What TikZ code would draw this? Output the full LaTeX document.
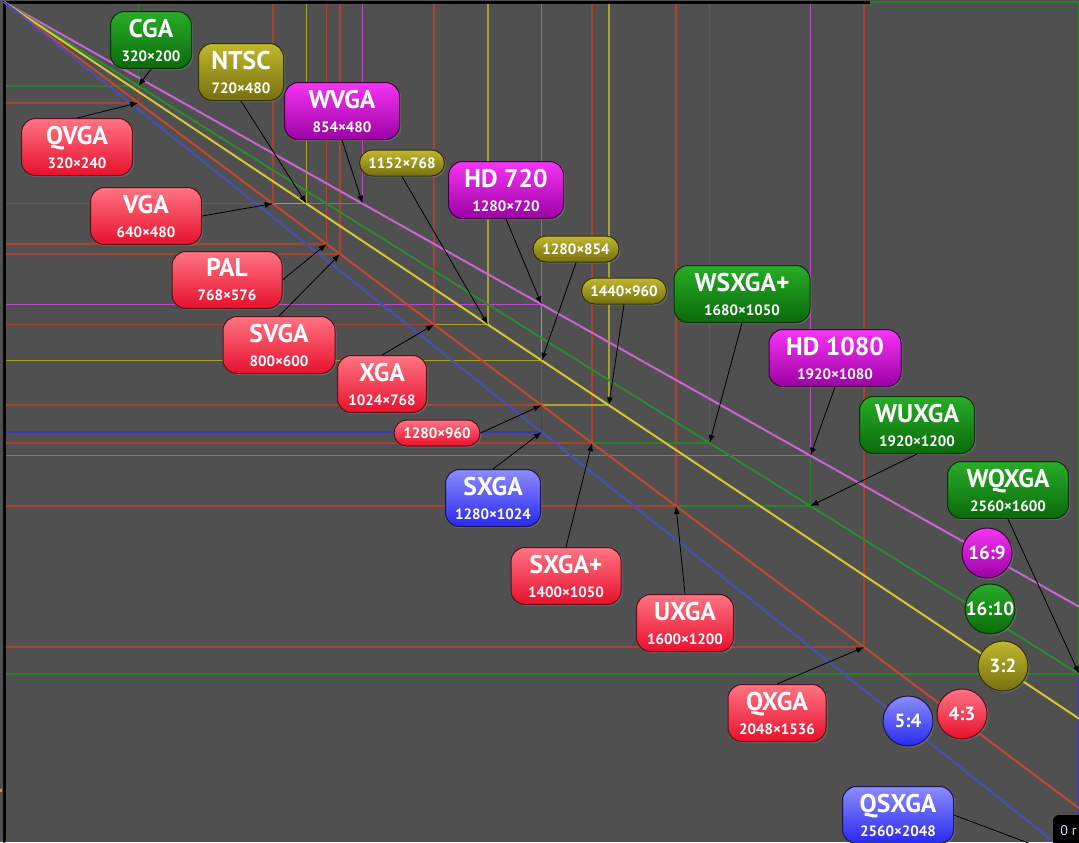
\documentclass[tikz,border=0pt]{standalone}
\usepackage{fontspec}
\setmainfont{PT Sans}
\usetikzlibrary{arrows.meta,shadows}

\definecolor{bgray}{HTML}{505050}
% label fills
\definecolor{redtop}{HTML}{FF7484}
\definecolor{redbot}{HTML}{E8102C}
\definecolor{redrim}{HTML}{5A1018}
\definecolor{grntop}{HTML}{28AC28}
\definecolor{grnbot}{HTML}{0A6A0A}
\definecolor{grnrim}{HTML}{083208}
\definecolor{olvtop}{HTML}{C0B82E}
\definecolor{olvbot}{HTML}{767010}
\definecolor{olvrim}{HTML}{363208}
\definecolor{magtop}{HTML}{F535F5}
\definecolor{magbot}{HTML}{9C00A4}
\definecolor{magrim}{HTML}{400040}
\definecolor{blutop}{HTML}{8C8CFF}
\definecolor{blubot}{HTML}{2828EE}
\definecolor{blurim}{HTML}{161650}
% outline colours
\definecolor{lred}{HTML}{A8442C}
\definecolor{lgrn}{HTML}{2C802C}
\definecolor{lolv}{HTML}{A8A028}
\definecolor{lmag}{HTML}{B84CC8}
\definecolor{lblu}{HTML}{3A3AB0}
% ratio lines
\definecolor{dmag}{HTML}{C864D2}
\definecolor{dgrn}{HTML}{2E8A2E}
\definecolor{dolv}{HTML}{D4C836}
\definecolor{dred}{HTML}{C44830}
\definecolor{dblu}{HTML}{4650B4}

\newcommand{\ttl}[1]{{\fontsize{12.8}{13}\selectfont #1}}

\begin{document}
\begin{tikzpicture}[x=0.5pt,y=-0.5pt,
	box/.style={rectangle, rounded corners=7pt, minimum height=28.5pt, inner sep=1pt,
		text=white, align=center, font=\fontsize{7.5}{12}\selectfont\bfseries, line width=0.5pt,
		drop shadow={shadow xshift=0.8pt, shadow yshift=-0.8pt, opacity=0.45}},
	pill/.style={box, rounded corners=6.5pt, minimum height=13pt},
	ratio/.style={box, circle, minimum size=25pt, inner sep=0pt, font=\fontsize{9.5}{10}\selectfont\bfseries},
	redlbl/.style={top color=redtop, bottom color=redbot, draw=redrim},
	grnlbl/.style={top color=grntop, bottom color=grnbot, draw=grnrim},
	olvlbl/.style={top color=olvtop, bottom color=olvbot, draw=olvrim},
	maglbl/.style={top color=magtop, bottom color=magbot, draw=magrim},
	blulbl/.style={top color=blutop, bottom color=blubot, draw=blurim},
	frame/.style={line width=0.75pt},
	ratioline/.style={line width=1pt},
	pointer/.style={-{Latex[length=4pt,width=3pt]}, line width=0.4pt, black}]

	\useasboundingbox (0,0) rectangle (1079,842);
	\clip (0,0) rectangle (1079,842);
	\fill[bgray] (0,0) rectangle (1079,842);

	% screen outlines from the top left corner
	\coordinate (o) at (4,2);
	\foreach \w/\h/\c in {2560/2048/lblu, 2560/1600/lgrn, 2048/1536/lred, 1920/1200/lgrn,
		1600/1200/lred, 1920/1080/lmag, 1680/1050/lgrn, 1400/1050/lred, 1440/960/lolv,
		1280/1024/lblu, 1280/960/lred, 1280/854/lolv, 1280/720/lmag, 1152/768/lolv,
		1024/768/lred, 800/600/lred, 768/576/lred, 854/480/lmag, 720/480/lolv,
		640/480/lred, 320/240/lred, 320/200/lgrn}{
		\draw[frame,\c] (o) rectangle ({4+0.42*\w},{2+0.42*\h});
		\coordinate (r\w-\h) at ({4+0.42*\w},{2+0.42*\h});
	}
	\draw[black, line width=1.5pt] (4,842) -- (o) -- (870,2);

	% aspect ratio diagonals
	\foreach \dx/\dy/\c in {1600/900/dmag, 1600/1000/dgrn, 1500/1000/dolv, 1200/900/dred, 1250/1000/dblu}{
		\draw[ratioline,\c] (o) -- ++(\dx,\dy);
	}

	% labels
	\node[box, grnlbl, minimum width=40.5pt] (cga) at (151,40) {\ttl{CGA}\\320×200};
	\node[box, olvlbl, minimum width=42.5pt] (ntsc) at (241,72) {\ttl{NTSC}\\720×480};
	\node[box, maglbl, minimum width=57.5pt] (wvga) at (342,111) {\ttl{WVGA}\\854×480};
	\node[box, redlbl, minimum width=55.5pt] (qvga) at (77,147) {\ttl{QVGA}\\320×240};
	\node[box, maglbl, minimum width=57.5pt] (hd720) at (506,190) {\ttl{HD 720}\\1280×720};
	\node[box, redlbl, minimum width=55.5pt] (vga) at (146,216) {\ttl{VGA}\\640×480};
	\node[box, redlbl, minimum width=55pt] (pal) at (227,280) {\ttl{PAL}\\768×576};
	\node[box, grnlbl, minimum width=68pt] (wsxgap) at (742,294) {\ttl{WSXGA+}\\1680×1050};
	\node[box, redlbl, minimum width=56pt] (svga) at (279,345) {\ttl{SVGA}\\800×600};
	\node[box, maglbl, minimum width=66pt] (hd1080) at (835,358) {\ttl{HD 1080}\\1920×1080};
	\node[box, redlbl, minimum width=44.5pt] (xga) at (382,384) {\ttl{XGA}\\1024×768};
	\node[box, grnlbl, minimum width=57.5pt] (wuxga) at (917,425) {\ttl{WUXGA}\\1920×1200};
	\node[box, grnlbl, minimum width=60.5pt] (wqxga) at (1008,490) {\ttl{WQXGA}\\2560×1600};
	\node[box, blulbl, minimum width=47.5pt] (sxga) at (493,498) {\ttl{SXGA}\\1280×1024};
	\node[box, redlbl, minimum width=55pt] (sxgap) at (566,576) {\ttl{SXGA+}\\1400×1050};
	\node[box, redlbl, minimum width=48.5pt] (uxga) at (685,623) {\ttl{UXGA}\\1600×1200};
	\node[box, redlbl, minimum width=49pt] (qxga) at (777,713) {\ttl{QXGA}\\2048×1536};
	\node[box, blulbl, minimum width=55.5pt] (qsxga) at (898,815) {\ttl{QSXGA}\\2560×2048};

	\node[pill, olvlbl, minimum width=42.5pt] (p1152) at (402,163) {1152×768};
	\node[pill, olvlbl, minimum width=43pt] (p854) at (576,249) {1280×854};
	\node[pill, olvlbl, minimum width=42.5pt] (p1440) at (624,291) {1440×960};
	\node[pill, redlbl, minimum width=43pt] (p960) at (437,433) {1280×960};

	\node[ratio, maglbl] (r169) at (987,553) {16:9};
	\node[ratio, grnlbl] (r1610) at (990,609) {16:10};
	\node[ratio, olvlbl] (r32) at (1003,666) {3:2};
	\node[ratio, redlbl] (r43) at (962,714) {4:3};
	\node[ratio, blulbl] (r54) at (908,721) {5:4};

	% pointers to the corners
	\draw[pointer] (cga.south) -- (r320-200);
	\draw[pointer] (qvga.north) -- (r320-240);
	\draw[pointer] (vga.east) -- (r640-480);
	\draw[pointer] (ntsc.south) -- (r720-480);
	\draw[pointer] (wvga.south) -- (r854-480);
	\draw[pointer] (pal.east) -- (r768-576);
	\draw[pointer] (svga.north) -- (r800-600);
	\draw[pointer] (xga.north) -- (r1024-768);
	\draw[pointer] (p1152.south) -- (r1152-768);
	\draw[pointer] (hd720.south) -- (r1280-720);
	\draw[pointer] (p854.south) -- (r1280-854);
	\draw[pointer] (p1440.south) -- (r1440-960);
	\draw[pointer] (p960.east) -- (r1280-960);
	\draw[pointer] (sxga.north) -- (r1280-1024);
	\draw[pointer] (sxgap.north) -- (r1400-1050);
	\draw[pointer] (wsxgap.south) -- (r1680-1050);
	\draw[pointer] (hd1080.south) -- (r1920-1080);
	\draw[pointer] (wuxga.south) -- (r1920-1200);
	\draw[pointer] (uxga.north) -- (r1600-1200);
	\draw[pointer] (qxga.north) -- (r2048-1536);
	\draw[pointer] (wqxga.south) -- (r2560-1600);
	\draw[pointer] (qsxga.east) -- (r2560-2048);

	% corner tag
	\fill[black, rounded corners=3pt] (1053,815) rectangle (1095,860);
	\node[anchor=west, inner sep=0pt, text=blue!15!white, font=\fontsize{7}{7}\selectfont] (tag) at (1060,831) {0 r};
	\fill[orange] (0,789) rectangle (2,792);
\end{tikzpicture}
\end{document}
